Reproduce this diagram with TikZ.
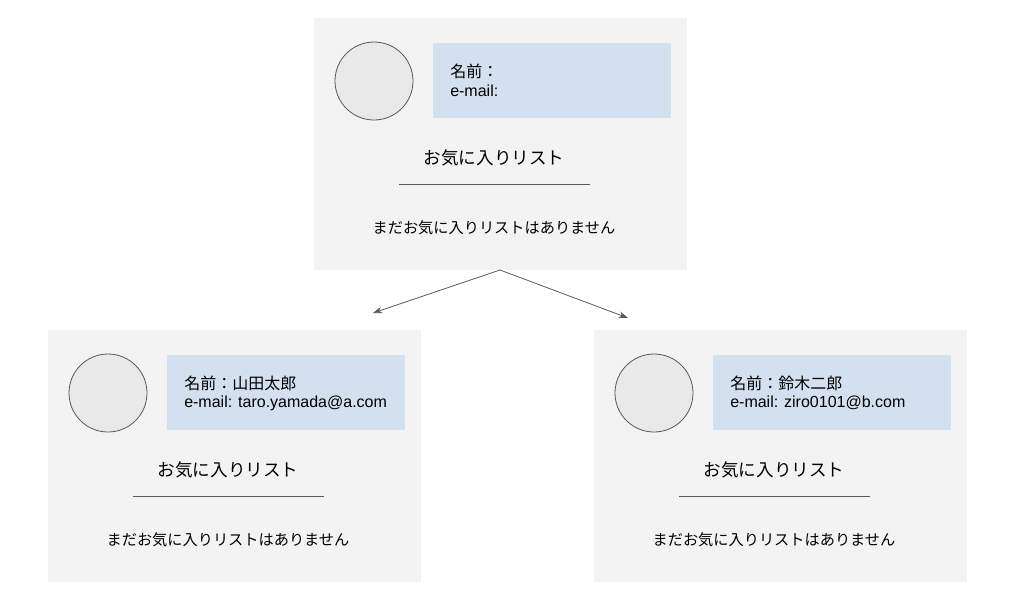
\documentclass[tikz,border=0pt]{standalone}
\usepackage{fontspec}
\setmainfont{Liberation Sans}
\newfontfamily\cjk{Noto Sans CJK JP}
\usetikzlibrary{arrows.meta}
\definecolor{cardbg}{HTML}{F3F3F3}
\definecolor{infobg}{HTML}{D3E0F0}
\definecolor{edge}{HTML}{595959}
\tikzset{
  card/.style={fill=cardbg,draw=none,minimum width=373*0.75pt,minimum height=252*0.75pt,inner sep=0,anchor=north west},
  avatar/.style={circle,draw=edge,fill=cardbg!90!black!40!cardbg,minimum size=78*0.75pt,inner sep=0,line width=0.6pt},
  info/.style={fill=infobg,minimum width=238*0.75pt,minimum height=75*0.75pt,inner sep=0,anchor=north west},
  infotxt/.style={anchor=west,font=\fontsize{12}{14}\selectfont,inner sep=0},
  title/.style={font=\cjk\fontsize{13.2}{15}\selectfont,inner sep=0},
  empty/.style={font=\cjk\fontsize{11.4}{13}\selectfont,inner sep=0},
  rule/.style={draw=edge,line width=0.6pt},
  link/.style={draw=edge,line width=0.6pt,-{Stealth[length=7pt,width=5pt]}}
}
\begin{document}
\begin{tikzpicture}[x=0.75pt,y=-0.75pt]
\useasboundingbox (0,0) rectangle (1024,593);
\foreach \n/\dx/\dy/\nm/\ml in {t/0/0//,l/-266/312/山田太郎/taro.yamada@a.com,r/280/312/鈴木二郎/ziro0101@b.com}{
  \node[card] (\n card) at (314+\dx,18+\dy) {};
  \node[avatar] (\n av) at (374+\dx,81+\dy) {};
  \node[info] (\n info) at (433+\dx,43+\dy) {};
  \node[infotxt] (\n name) at (450+\dx,71+\dy) {{\cjk 名前：\nm}};
  \node[infotxt] (\n mail) at (450+\dx,91+\dy) {e-mail: \ml};
  \node[title] (\n title) at (494+\dx,158+\dy) {お気に入りリスト};
  \coordinate (\n a) at (399+\dx,184+\dy);
  \coordinate (\n b) at (590+\dx,184+\dy);
  \draw[rule] (\n a) -- (\n b);
  \node[empty] (\n empty) at (494+\dx,228+\dy) {まだお気に入りリストはありません};
}
\coordinate (src) at (500,270);
\coordinate (dl) at (373,313);
\coordinate (dr) at (628,318);
\draw[link] (src) -- (dl);
\draw[link] (src) -- (dr);
\end{tikzpicture}
\end{document}
